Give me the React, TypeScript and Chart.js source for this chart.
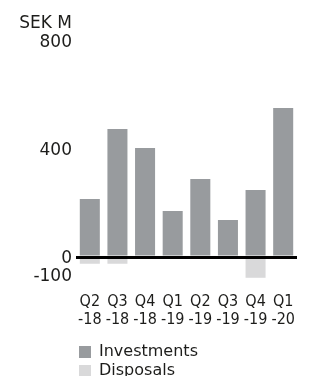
import React, { useEffect, useRef } from "react";
import { Chart, registerables } from "chart.js";

Chart.register(...registerables);

const categories: string[][] = [
  ["Q2", "-18"],
  ["Q3", "-18"],
  ["Q4", "-18"],
  ["Q1", "-19"],
  ["Q2", "-19"],
  ["Q3", "-19"],
  ["Q4", "-19"],
  ["Q1", "-20"],
];
const investments: number[] = [215, 474, 404, 170, 289, 137, 248, 552];
const disposals: number[] = [-25, -25, 0, 0, 0, 0, -77, 0];
const yTicks: number[] = [-100, 0, 400, 800];
const unitLabel = "SEK M";

const TEXT = "#1d1d1b";
const Y_FONT = "'DejaVu Sans', sans-serif";
const X_FONT = "'DejaVu Sans Condensed', 'Liberation Sans Narrow', 'Roboto Condensed', 'DejaVu Sans', sans-serif";

const unitPlugin = {
  id: "unitLabel",
  afterDraw(chart: any) {
    const { ctx, chartArea, scales } = chart;
    const y = scales.y;
    ctx.save();
    ctx.font = `17px ${Y_FONT}`;
    ctx.fillStyle = TEXT;
    ctx.textAlign = "right";
    ctx.textBaseline = "middle";
    ctx.fillText(unitLabel, y.right - 4, chartArea.top - 17);
    ctx.restore();
  },
};

export default function App() {
  const ref = useRef<HTMLCanvasElement>(null);

  useEffect(() => {
    document.documentElement.style.overflow = "hidden";
    document.body.style.margin = "0";
    document.body.style.overflow = "hidden";
    const canvas = ref.current!;
    const chart = new Chart(canvas, {
      type: "bar",
      data: {
        labels: categories,
        datasets: [
          {
            label: "Investments",
            data: investments,
            backgroundColor: "#989b9e",
            borderWidth: 0,
            barPercentage: 0.725,
            categoryPercentage: 1,
          },
          {
            label: "Disposals",
            data: disposals,
            backgroundColor: "#d9d9da",
            borderWidth: 0,
            barPercentage: 0.725,
            categoryPercentage: 1,
          },
        ],
      },
      options: {
        animation: false,
        responsive: false,
        maintainAspectRatio: false,
        layout: { padding: { top: 41, right: 12, left: 0, bottom: 0 } },
        plugins: {
          tooltip: { enabled: false },
          title: { display: false },
          legend: {
            display: true,
            position: "bottom",
            align: "start",
            fullSize: false,
            labels: {
              boxWidth: 12,
              boxHeight: 12,
              padding: 3,
              color: TEXT,
              font: { size: 16, family: Y_FONT, lineHeight: 1 },
            },
          },
        },
        scales: {
          x: {
            stacked: true,
            grid: { display: false },
            border: { display: false },
            ticks: {
              color: TEXT,
              padding: 1,
              maxRotation: 0,
              autoSkip: false,
              font: { size: 16, family: X_FONT, lineHeight: 1.1 },
            },
            afterFit: (scale: any) => {
              scale.height = 57;
            },
          },
          y: {
            stacked: true,
            min: -100,
            max: 800,
            border: { display: false },
            grid: {
              z: 1,
              drawTicks: false,
              color: (ctx: any) => (ctx.tick && ctx.tick.value === 0 ? "#000000" : "rgba(0,0,0,0)"),
              lineWidth: (ctx: any) => (ctx.tick && ctx.tick.value === 0 ? 3 : 0),
            },
            afterBuildTicks: (scale: any) => {
              scale.ticks = yTicks.map((v) => ({ value: v }));
            },
            afterFit: (scale: any) => {
              scale.width = 76;
            },
            ticks: {
              color: TEXT,
              padding: 4,
              labelOffset: 1.5,
              font: { size: 17, family: Y_FONT, lineHeight: 1 },
              callback: (value: any) => (Number(value) === -100 ? [String(value), ""] : String(value)),
            },
          },
        },
      },
      plugins: [unitPlugin],
    });
    return () => chart.destroy();
  }, []);

  return (
    <div style={{ width: 309, height: 389 }}>
      <canvas ref={ref} width={309} height={389} style={{ display: "block" }} />
    </div>
  );
}
